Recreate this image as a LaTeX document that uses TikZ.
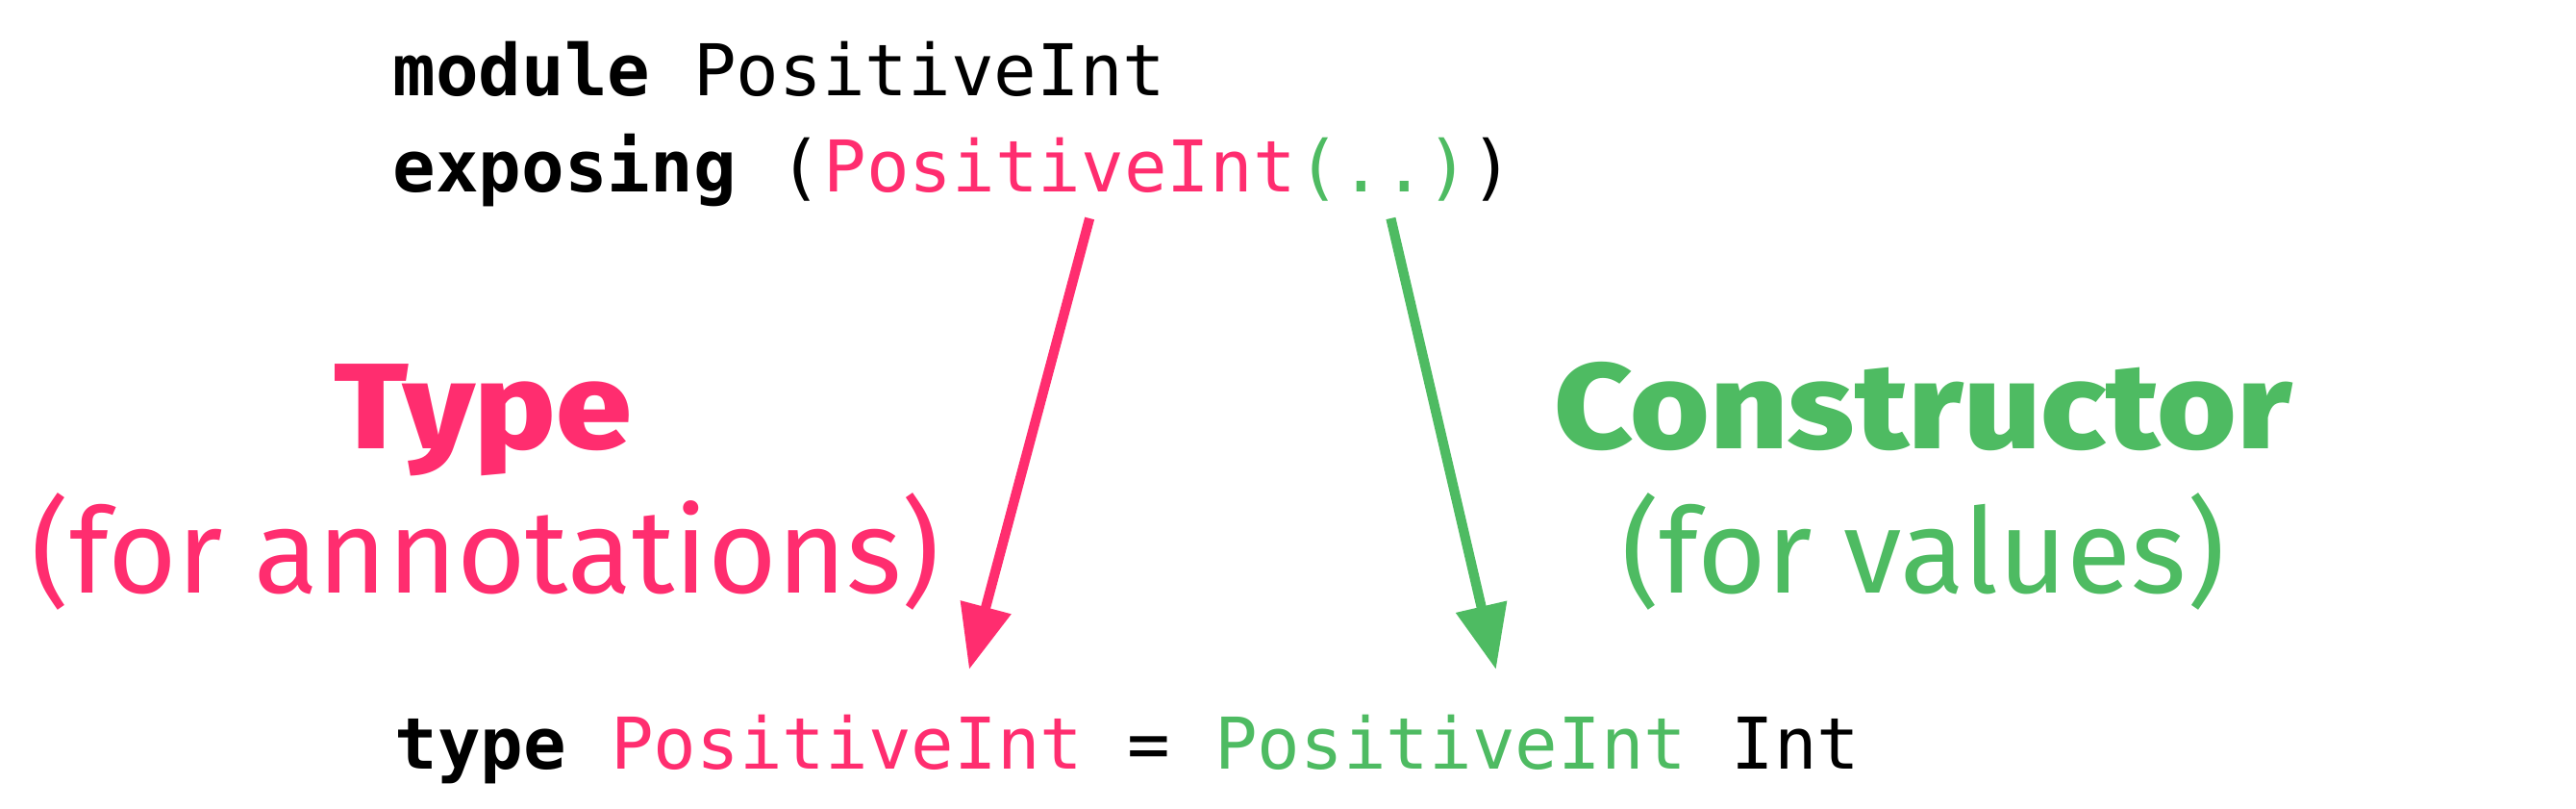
\documentclass[tikz,border=0pt]{standalone}
\usepackage{xcolor}
\usepackage{fontspec}
\usepackage{tikz}
\usetikzlibrary{positioning,calc,arrows.meta}

\newfontfamily\codefont{DejaVu Sans Mono}
\newfontfamily\labelfont{Fira Sans}[BoldFont={Fira Sans ExtraBold},BoldFeatures={FakeStretch=1.12}]

\definecolor{elmpink}{HTML}{FF2D6F}
\definecolor{elmgreen}{HTML}{4EBB62}

\tikzset{
    code/.style={font=\codefont\fontsize{21.1pt}{25pt}\selectfont, inner sep=0pt, anchor=base west},
    biglabel/.style={font=\labelfont\bfseries\fontsize{36pt}{40pt}\selectfont, inner sep=0pt, anchor=base},
    smalllabel/.style={font=\labelfont\fontsize{35pt}{40pt}\selectfont, inner sep=0pt, anchor=base},
    pointer/.style={line width=2.9pt, -{Triangle[length=6.7mm,width=5.2mm]}}
}

\newcommand{\codesp}{\hphantom{x}}

\begin{document}
\begin{tikzpicture}
    \useasboundingbox (0,0) rectangle (26.79,8.41);

    % Module header
    \node[code] (modLine) at (4.08,7.41) {\textbf{module} PositiveInt};
    \node[code] (expKw) at (4.08,6.41) {\textbf{exposing}\codesp(};
    \node[code, base right=0pt of expKw, text=elmpink] (expType) {PositiveInt};
    \node[code, base right=0pt of expType, text=elmgreen] (expCtor) {(..)};
    \node[code, base right=0pt of expCtor] (expEnd) {)};

    % Type definition
    \node[code] (defKw) at (4.10,0.41) {\textbf{type}\codesp};
    \node[code, base right=0pt of defKw, text=elmpink] (defType) {PositiveInt};
    \node[code, base right=0pt of defType] (defEq) {\codesp=\codesp};
    \node[code, base right=0pt of defEq, text=elmgreen] (defCtor) {PositiveInt};
    \node[code, base right=0pt of defCtor] (defInt) {\codesp Int};

    % Labels
    \node[biglabel, text=elmpink] (typeLbl) at (5.02,3.74) {Type};
    \node[smalllabel, text=elmpink] (typeNote) at (5.05,2.24) {(for annotations)};
    \node[biglabel, text=elmgreen] (ctorLbl) at (20.00,3.74) {Constructor};
    \node[smalllabel, text=elmgreen] (ctorNote) at (20.00,2.24) {(for values)};

    % Arrows
    \draw[pointer, elmpink] ([xshift=3.1mm,yshift=-2.7mm]expType.base) -- ([xshift=12.7mm,yshift=10.4mm]defType.base);
    \draw[pointer, elmgreen] ([xshift=0.8mm,yshift=-2.7mm]expCtor.base) -- ([xshift=4.7mm,yshift=10.4mm]defCtor.base);

\end{tikzpicture}
\end{document}
